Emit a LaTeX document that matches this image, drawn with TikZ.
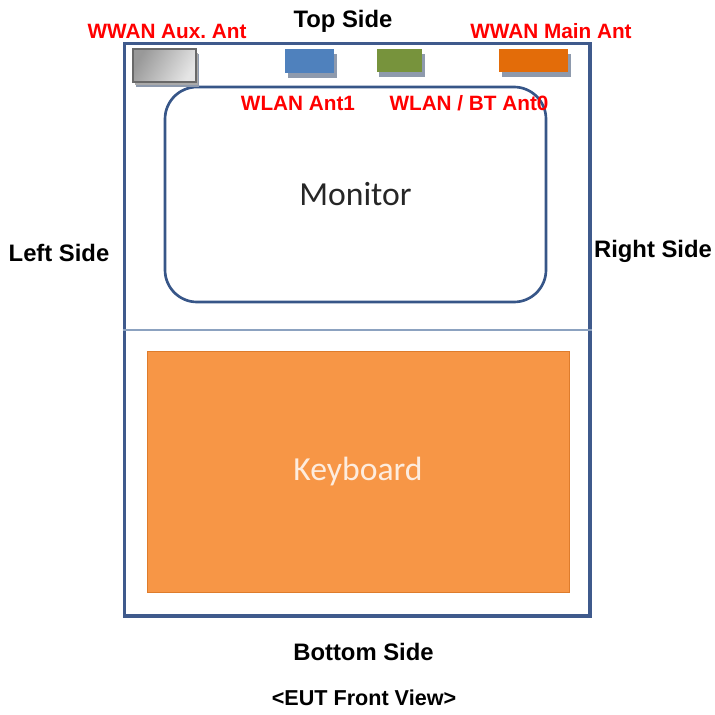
\documentclass[tikz,border=0pt]{standalone}
\usepackage{fontspec}
\setmainfont{Liberation Sans}
\newfontfamily\calibri{Carlito}
\usepackage{xcolor}
\usepackage{tikz}
\usetikzlibrary{shadows}
\frenchspacing

\definecolor{framecol}{RGB}{63,90,140}
\definecolor{moncol}{RGB}{55,86,136}
\definecolor{divcol}{RGB}{140,162,192}
\definecolor{kbdfill}{RGB}{247,150,70}
\definecolor{kbdline}{RGB}{222,124,44}
\definecolor{kbdtext}{RGB}{253,236,222}
\definecolor{antred}{RGB}{255,0,0}
\definecolor{antblue}{RGB}{79,129,189}
\definecolor{antgreen}{RGB}{119,147,60}
\definecolor{antorange}{RGB}{227,108,9}
\definecolor{antshadow}{RGB}{142,154,173}

\begin{document}
\begin{tikzpicture}[x=0.05cm, y=-0.05cm,
        side/.style={font=\fontsize{33.9}{40}\selectfont\bfseries,
                     anchor=base, inner sep=0pt},
        antlabel/.style={font=\fontsize{29.5}{35}\selectfont\bfseries,
                         text=antred, anchor=base, inner sep=0pt},
        antbox/.style={inner sep=0pt, minimum height=1.16cm,
                       drop shadow={shadow xshift=0.135cm, shadow yshift=-0.25cm,
                                    fill=antshadow, opacity=1}},
        part/.style={inner sep=0pt, font=\calibri\fontsize{47.9}{56}\selectfont}
    ]
        \useasboundingbox (0,0) rectangle (715,715);

        % housing and the two halves
        \node[draw=framecol, line width=4.3pt, minimum width=23.3cm,
              minimum height=28.65cm, inner sep=0pt] (eut) at (357,329.5) {};
        \draw[divcol, line width=1.7pt] (eut.west |- 0,330) -- (eut.east |- 0,330);
        \node[part, draw=moncol, line width=3.8pt, rounded corners=1.6cm,
              minimum width=19.05cm, minimum height=10.75cm,
              text={rgb,255:red,38;green,38;blue,38}] (mon) at (355.5,194.5) {Monitor};
        \node[part, fill=kbdfill, draw=kbdline, line width=1.2pt,
              minimum width=21.1cm, minimum height=12.05cm,
              text=kbdtext] (kbd) at (358,471.5) {Keyboard};

        % antennas
        \node[antbox, minimum width=3.13cm, minimum height=1.62cm,
              draw={rgb,255:red,105;green,105;blue,105}, line width=2.8pt,
              left color=gray!80, right color=gray!20, shading angle=60,
              drop shadow={shadow xshift=0.1cm, shadow yshift=-0.18cm,
                           fill={rgb,255:red,170;green,170;blue,170}, opacity=1}]
              (aux) at (164.7,65.5) {};
        \node[antbox, fill=antblue, minimum width=2.45cm] (ant1) at (309.5,61) {};
        \node[antbox, fill=antgreen, minimum width=2.27cm] (ant0) at (399.3,60.5) {};
        \node[antbox, fill=antorange, minimum width=3.45cm] (main) at (533.5,60.4) {};

        % labels
        \node[side] (top) at (343,27) {Top Side};
        \node[side] (left) at (59,261.5) {Left Side};
        \node[side] (right) at (653,257.5) {Right Side};
        \node[side] (bottom) at (363.5,660.5) {Bottom Side};
        \node[side, font=\fontsize{30.7}{36}\selectfont\bfseries] (view) at (364,705.5) {<EUT Front View>};
        \node[antlabel] (auxlbl) at (167,38.5) {WWAN Aux. Ant};
        \node[antlabel] (mainlbl) at (551,38.5) {WWAN Main Ant};
        \node[antlabel] (ant1lbl) at (298,110.7) {WLAN Ant1};
        \node[antlabel] (ant0lbl) at (469,110.7) {WLAN / BT Ant0};
    \end{tikzpicture}
\end{document}
